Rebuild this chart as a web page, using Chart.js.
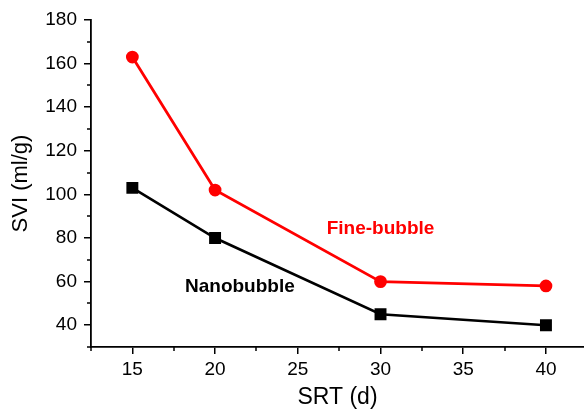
<!DOCTYPE html>
<html>
<head>
<meta charset="utf-8">
<script src="https://cdn.jsdelivr.net/npm/chart.js@4"></script>
<style>
html,body{margin:0;padding:0;background:#fff;}
#wrap{width:584px;height:409px;position:relative;}
</style>
</head>
<body>
<div id="wrap"><canvas id="c" width="584" height="409"></canvas></div>
<script>
const srt = [15, 20, 30, 40];
const fineBubble = [163, 102, 60, 58];
const nanoBubble = [103, 80, 45, 40];
const xTicks = [15, 20, 25, 30, 35, 40];
const yTicks = [40, 60, 80, 100, 120, 140, 160, 180];
const xMinor = [12.5, 17.5, 22.5, 27.5, 32.5, 37.5, 42.5];
const yMinor = [30, 50, 70, 90, 110, 130, 150, 170];
const seriesLabels = ["Fine-bubble", "Nanobubble"];
const labelPos = [[30, 84.3], [21.5, 57.6]];

const FONT = "'Liberation Sans', Arial, sans-serif";

const annot = {
  id: 'annot',
  afterDatasetsDraw(chart) {
    const ctx = chart.ctx, xs = chart.scales.x, ys = chart.scales.y;
    ctx.save();
    ctx.strokeStyle = '#000';
    ctx.lineWidth = 1.5;
    xMinor.forEach(v => {
      if (v > xs.max) return;
      const px = Math.round(xs.getPixelForValue(v));
      ctx.beginPath(); ctx.moveTo(px, ys.bottom); ctx.lineTo(px, ys.bottom + 4); ctx.stroke();
    });
    yMinor.forEach(v => {
      const py = Math.round(ys.getPixelForValue(v));
      ctx.beginPath(); ctx.moveTo(xs.left, py); ctx.lineTo(xs.left - 4, py); ctx.stroke();
    });
    ctx.font = "bold 19px " + FONT;
    ctx.textAlign = 'center'; ctx.textBaseline = 'middle';
    ctx.fillStyle = '#ff0000';
    ctx.fillText(seriesLabels[0], xs.getPixelForValue(labelPos[0][0]), ys.getPixelForValue(labelPos[0][1]));
    ctx.fillStyle = '#000';
    ctx.fillText(seriesLabels[1], xs.getPixelForValue(labelPos[1][0]), ys.getPixelForValue(labelPos[1][1]));
    ctx.restore();
  }
};

new Chart(document.getElementById('c'), {
  type: 'line',
  data: {
    datasets: [
      {
        label: seriesLabels[1],
        data: srt.map((x, i) => ({x, y: nanoBubble[i]})),
        borderColor: '#000', backgroundColor: '#000',
        borderWidth: 2.6, pointStyle: 'rect', pointRadius: 6.6, pointHoverRadius: 6.6,
        tension: 0
      },
      {
        label: seriesLabels[0],
        data: srt.map((x, i) => ({x, y: fineBubble[i]})),
        borderColor: '#ff0000', backgroundColor: '#ff0000',
        borderWidth: 2.8, pointStyle: 'circle', pointRadius: 5, pointHoverRadius: 5,
        tension: 0
      }
    ]
  },
  options: {
    responsive: false,
    animation: false,
    layout: { autoPadding: false, padding: { top: 20, right: 0, left: 0, bottom: 0 } },
    plugins: { legend: { display: false }, tooltip: { enabled: false } },
    scales: {
      x: {
        type: 'linear', min: 12.5, max: 42.3,
        afterBuildTicks(s) { s.ticks = xTicks.map(v => ({value: v})); },
        afterFit(s) { s.height = 62; s.paddingLeft = 0; s.paddingRight = 0; },
        grid: { display: true, drawOnChartArea: false, drawTicks: true, tickLength: 7, color: '#000', lineWidth: 1.5 },
        border: { display: true, color: '#000', width: 1.8 },
        ticks: { color: '#000', font: { family: FONT, size: 19 }, padding: 4, maxRotation: 0, autoSkip: false },
        title: { display: true, text: 'SRT (d)', color: '#000', font: { family: FONT, size: 23 }, padding: { top: 0, bottom: -2 } }
      },
      y: {
        type: 'linear', min: 30, max: 180,
        afterBuildTicks(s) { s.ticks = yTicks.map(v => ({value: v})); },
        afterFit(s) { s.width = 91; },
        grid: { display: true, drawOnChartArea: false, drawTicks: true, tickLength: 7, color: '#000', lineWidth: 1.5 },
        border: { display: true, color: '#000', width: 1.8 },
        ticks: { color: '#000', font: { family: FONT, size: 19 }, padding: 7, autoSkip: false },
        title: { display: true, text: 'SVI (ml/g)', color: '#000', font: { family: FONT, size: 22 }, padding: { top: 8, bottom: 0 } }
      }
    }
  },
  plugins: [annot]
});
</script>
</body>
</html>
